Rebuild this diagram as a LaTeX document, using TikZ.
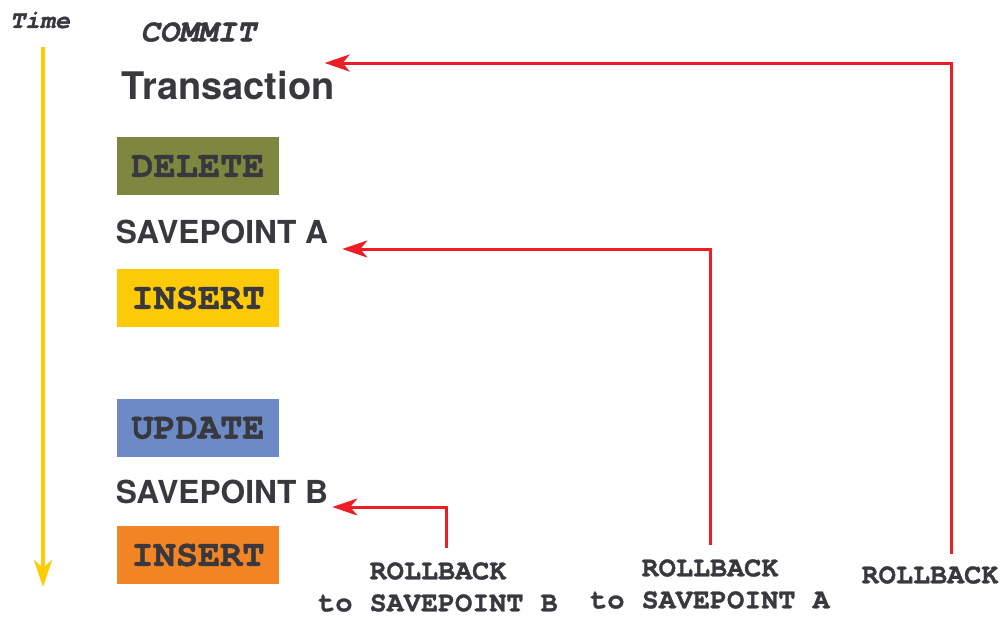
\documentclass[tikz,border=0pt]{standalone}
\usepackage{fontspec}
\setmainfont{TeX Gyre Heros}
\newfontfamily\codefont{texgyrecursor}[Extension=.otf, UprightFont=*-regular, BoldFont=*-bold, ItalicFont=*-italic, BoldItalicFont=*-bolditalic, BoldFeatures={FakeBold=1.2}, BoldItalicFeatures={FakeBold=1.2}]
\usepackage{xcolor}
\usetikzlibrary{arrows.meta,positioning}

\definecolor{inkgray}{HTML}{38383E}
\definecolor{delcol}{HTML}{7E873F}
\definecolor{inscol}{HTML}{FDCA08}
\definecolor{updcol}{HTML}{6C8AC6}
\definecolor{ins2col}{HTML}{F28424}
\definecolor{rbred}{HTML}{EE1C25}
\definecolor{timecol}{HTML}{FFCC00}

\begin{document}
\begin{tikzpicture}[
    x=1pt, y=-1pt,
    stmt/.style={rectangle, fill=#1, minimum width=162pt, minimum height=58pt, inner sep=0pt,
        font=\codefont\bfseries\fontsize{37}{40}\selectfont, text=inkgray},
    savept/.style={inner sep=0pt, font=\bfseries\fontsize{31.7}{34}\selectfont, text=inkgray},
    rblabel/.style={inner sep=0pt, align=center, font=\codefont\bfseries\fontsize{28.5}{32}\selectfont, text=inkgray},
    rollback/.style={-{Stealth[length=25pt,width=17pt,inset=7pt]}, line width=3pt, color=rbred},
    timeline/.style={-{Stealth[length=27pt,width=18pt,inset=8pt]}, line width=3.6pt, color=timecol}
]
    \useasboundingbox (0,0) rectangle (1003,616);

    % Time axis
    \node[inner sep=0pt, font=\codefont\bfseries\itshape\fontsize{25}{27}\selectfont, text=inkgray] (time) at (40,20) {Time};
    \coordinate (tStart) at (43,47);
    \coordinate (tEnd) at (43,587);
    \draw[timeline] (tStart) -- (tEnd);

    % Transaction column
    \node[inner sep=0pt, font=\codefont\bfseries\itshape\fontsize{32}{34}\selectfont, text=inkgray] (commit) at (198,32) {COMMIT};
    \node[inner sep=0pt, font=\bfseries\fontsize{38}{40}\selectfont, text=inkgray] (trans) at (228,86) {Transaction};
    \node[stmt=delcol] (del) at (198,166) {DELETE};
    \node[savept] (spA) at (222,232) {SAVEPOINT A};
    \node[stmt=inscol] (insA) at (198,298) {INSERT};
    \node[stmt=updcol] (upd) at (198,428) {UPDATE};
    \node[savept] (spB) at (222,492) {SAVEPOINT B};
    \node[stmt=ins2col] (insB) at (198,555) {INSERT};

    % Rollback labels
    \node[rblabel] (rbB) at (438,587) {ROLLBACK\\to SAVEPOINT B};
    \node[rblabel] (rbA) at (710,584) {ROLLBACK\\to SAVEPOINT A};
    \node[rblabel] (rbAll) at (930,575) {ROLLBACK};

    % Rollback arrows
    \draw[rollback] ([xshift=8pt,yshift=14pt]rbB.north) |- ([xshift=4pt,yshift=-15pt]spB.east);
    \draw[rollback] ([xshift=0pt,yshift=14pt]rbA.north) |- ([xshift=14pt,yshift=-17pt]spA.east);
    \draw[rollback] ([xshift=21pt,yshift=12pt]rbAll.north) |- ([xshift=-10pt,yshift=23pt]trans.east);
\end{tikzpicture}
\end{document}
